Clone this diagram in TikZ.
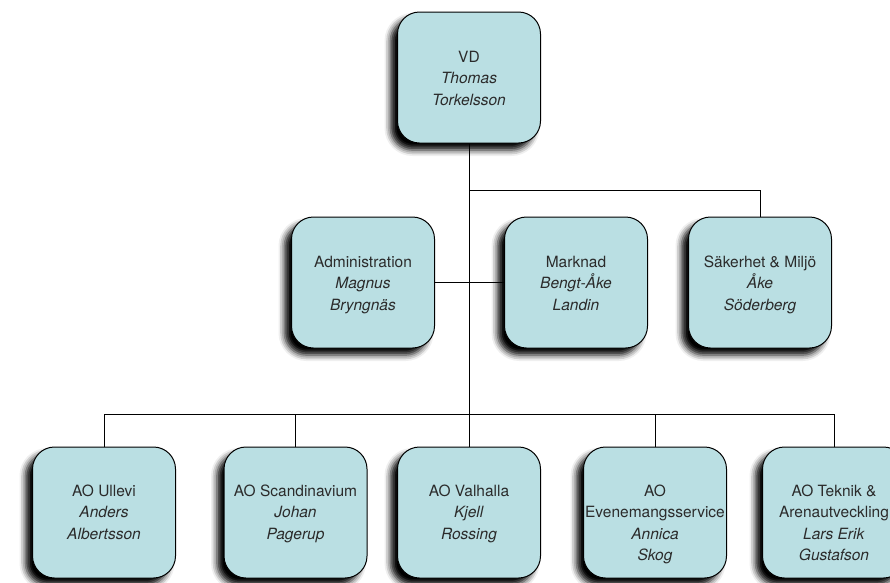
\documentclass[tikz,border=0pt]{standalone}
\usepackage{fontspec}
\setmainfont{TeX Gyre Heros}
\usetikzlibrary{shadows.blur}
\definecolor{boxfill}{HTML}{BADFE3}
\definecolor{txtcol}{HTML}{2B2B2B}
\begin{document}
\begin{tikzpicture}[x=1pt,y=-1pt,
  orgbox/.style={draw=black, line width=1pt, fill=boxfill, rounded corners=22pt,
    minimum width=143pt, minimum height=131pt, inner sep=0pt,
    blur shadow={shadow xshift=-7pt, shadow yshift=-7pt, shadow blur radius=6pt,
      shadow blur extra rounding=2pt, shadow opacity=100}},
  lbl/.style={anchor=north, align=center, inner sep=0pt,
    font=\fontsize{15.5}{21.5}\selectfont, text=txtcol},
  conn/.style={draw=black, line width=0.9pt}]
\useasboundingbox (0,0) rectangle (890,582);

% boxes
\node[orgbox] (vd)   at (469,77.5) {};
\node[orgbox] (adm)  at (363,282.5) {};
\node[orgbox] (mark) at (576,282.5) {};
\node[orgbox] (sak)  at (760,282.5) {};
\node[orgbox] (ull)  at (104,512.5) {};
\node[orgbox] (sca)  at (295.5,512.5) {};
\node[orgbox] (val)  at (469,512.5) {};
\node[orgbox] (eve)  at (655,512.5) {};
\node[orgbox] (tek)  at (834,512.5) {};

% texts
\node[lbl] (vd-t)   at ([yshift=-39pt]vd.north)   {VD\\\textit{Thomas}\\\textit{Torkelsson}};
\node[lbl] (adm-t)  at ([yshift=-39pt]adm.north)  {Administration\\\textit{Magnus}\\\textit{Bryngnäs}};
\node[lbl] (mark-t) at ([yshift=-39pt]mark.north) {Marknad\\\textit{Bengt-Åke}\\\textit{Landin}};
\node[lbl] (sak-t)  at ([yshift=-39pt]sak.north)  {Säkerhet \& Miljö\\\textit{Åke}\\\textit{Söderberg}};
\node[lbl] (ull-t)  at ([yshift=-38pt]ull.north)  {AO Ullevi\\\textit{Anders}\\\textit{Albertsson}};
\node[lbl] (sca-t)  at ([yshift=-38pt]sca.north)  {AO Scandinavium\\\textit{Johan}\\\textit{Pagerup}};
\node[lbl] (val-t)  at ([yshift=-38pt]val.north)  {AO Valhalla\\\textit{Kjell}\\\textit{Rossing}};
\node[lbl] (eve-t)  at ([yshift=-38pt]eve.north)  {AO\\Evenemangsservice\\\textit{Annica}\\\textit{Skog}};
\node[lbl] (tek-t)  at ([yshift=-38pt]tek.north)  {AO Teknik \&\\Arenautveckling\\\textit{Lars Erik}\\\textit{Gustafson}};

% junctions
\coordinate (j1) at (469,190);
\coordinate (j3) at (469,414);

% connectors
\draw[conn] (vd.south) -- (j3);
\draw[conn] (j1) -| (sak.north);
\draw[conn] (adm.east) -- (mark.west);
\draw[conn] (ull.north |- j3) -- (tek.north |- j3);
\draw[conn] (ull.north) -- (ull.north |- j3);
\draw[conn] (sca.north) -- (sca.north |- j3);
\draw[conn] (val.north) -- (val.north |- j3);
\draw[conn] (eve.north) -- (eve.north |- j3);
\draw[conn] (tek.north) -- (tek.north |- j3);
\end{tikzpicture}
\end{document}
